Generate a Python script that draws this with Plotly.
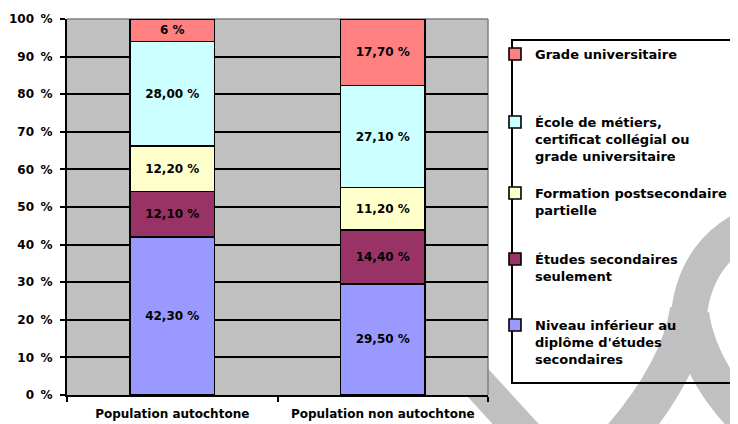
import plotly.graph_objects as go

categories = ["Population autochtone", "Population non autochtone"]
series_names = [
    "Niveau inférieur au<br>diplôme d'études<br>secondaires",
    "Études secondaires<br>seulement",
    "Formation postsecondaire<br>partielle",
    "École de métiers,<br>certificat collégial ou<br>grade universitaire",
    "Grade universitaire",
]
niveau_inferieur = [42.3, 29.5]
etudes_secondaires = [12.1, 14.4]
formation_partielle = [12.2, 11.2]
ecole_metiers = [28.0, 27.1]
grade_universitaire = [6.0, 17.7]
label_niveau = ["42,30 %", "29,50 %"]
label_secondaires = ["12,10 %", "14,40 %"]
label_partielle = ["12,20 %", "11,20 %"]
label_metiers = ["28,00 %", "27,10 %"]
label_grade = ["6 %", "17,70 %"]
tick_vals = [0, 10, 20, 30, 40, 50, 60, 70, 80, 90, 100]
tick_text = [f"{v}\u00a0\u2009%" for v in tick_vals]

colors = ["#9999FF", "#993366", "#FFFFCC", "#CCFFFF", "#FF8080"]
values = [niveau_inferieur, etudes_secondaires, formation_partielle, ecole_metiers, grade_universitaire]
labels = [label_niveau, label_secondaires, label_partielle, label_metiers, label_grade]

FONT = "DejaVu Sans"
# The page body adds an 8px offset, so the figure is 8px smaller and shifted.
W, H = 730, 416
ML, MR, MT, MB = 59, 250, 11, 29
PW, PH = W - ML - MR, H - MT - MB
# helpers take positions in the 738x424 reference frame
REF_LEFT, REF_BOTTOM = 67, 395


def px(x):
    return (x - REF_LEFT) / PW


def py(y):
    return (REF_BOTTOM - y) / PH


legend_keys = ["legend5", "legend4", "legend3", "legend2", "legend"]
legend_tops = [310, 244, 178, 107, 39]

fig = go.Figure()
for name, vals, lab, col, lk in zip(series_names, values, labels, colors, legend_keys):
    fig.add_trace(go.Bar(
        x=categories, y=vals, name=name, text=lab,
        textposition="inside", insidetextanchor="middle", textangle=0,
        textfont=dict(family=FONT, size=12, color="black", weight="bold"),
        marker=dict(color=col, line=dict(color="black", width=1.6)),
        width=0.4, legend=lk, hoverinfo="skip",
    ))

leg_common = dict(
    xanchor="left", yanchor="top", bgcolor="rgba(0,0,0,0)", borderwidth=0,
    font=dict(family=FONT, size=13, color="black", weight="bold"),
    valign="top", itemclick=False, itemdoubleclick=False,
)
layout_legends = {}
for lk, top in zip(legend_keys, legend_tops):
    layout_legends[lk] = dict(x=px(495), y=py(top), **leg_common)

WM = "#C0C0C0"
shapes = [
    # watermark (decorative background)
    dict(type="path", xref="paper", yref="paper", layer="below",
         path=f"M {px(765)} {py(220)} Q {px(692)} {py(245)} {px(688)} {py(325)}",
         line=dict(color=WM, width=36)),
    dict(type="path", xref="paper", yref="paper", layer="below",
         path=f"M {px(690)} {py(310)} Q {px(680)} {py(375)} {px(612)} {py(450)}",
         line=dict(color=WM, width=40)),
    dict(type="path", xref="paper", yref="paper", layer="below",
         path=f"M {px(690)} {py(315)} Q {px(700)} {py(375)} {px(752)} {py(425)}",
         line=dict(color=WM, width=38)),
    dict(type="path", xref="paper", yref="paper", layer="below",
         path=f"M {px(468)} {py(372)} L {px(535)} {py(445)}",
         line=dict(color=WM, width=34)),
    # plot border top/right in grey
    dict(type="line", xref="paper", yref="paper", x0=0, x1=1, y0=1, y1=1,
         layer="below", line=dict(color="#808080", width=1.5)),
    dict(type="line", xref="paper", yref="paper", x0=1, x1=1, y0=0, y1=1,
         layer="below", line=dict(color="#808080", width=1.5)),
    # legend box
    dict(type="rect", xref="paper", yref="paper", x0=px(512), x1=px(736), y0=py(383), y1=py(40),
         line=dict(color="black", width=2), fillcolor="rgba(0,0,0,0)", layer="above"),
]

fig.update_layout(
    width=W, height=H,
    margin=dict(l=ML, r=MR, t=MT, b=MB, pad=0, autoexpand=False),
    barmode="stack", barnorm="percent",
    plot_bgcolor="#C0C0C0", paper_bgcolor="white",
    showlegend=True,
    shapes=shapes,
    font=dict(family=FONT, size=12, color="black", weight="bold"),
    **layout_legends,
)
fig.update_yaxes(
    range=[0, 100], tickvals=tick_vals, ticktext=tick_text,
    showgrid=False,
    minor=dict(tickvals=tick_vals[1:-1], showgrid=True, gridcolor="black", gridwidth=1.6, ticks=""),
    showline=True, linecolor="black", linewidth=2,
    ticks="outside", ticklen=5, tickwidth=2, tickcolor="black",
    ticklabelstandoff=5, automargin=False,
    tickfont=dict(family=FONT, size=12, color="black", weight="bold"),
    zeroline=False, fixedrange=True,
)
fig.update_xaxes(
    showline=True, linecolor="black", linewidth=2,
    ticks="outside", tickson="boundaries", ticklen=5, tickwidth=2, tickcolor="black",
    ticklabelstandoff=7, automargin=False,
    tickfont=dict(family=FONT, size=12, color="black", weight="bold"),
    showgrid=False, fixedrange=True,
)

fig.write_html("out.html")
